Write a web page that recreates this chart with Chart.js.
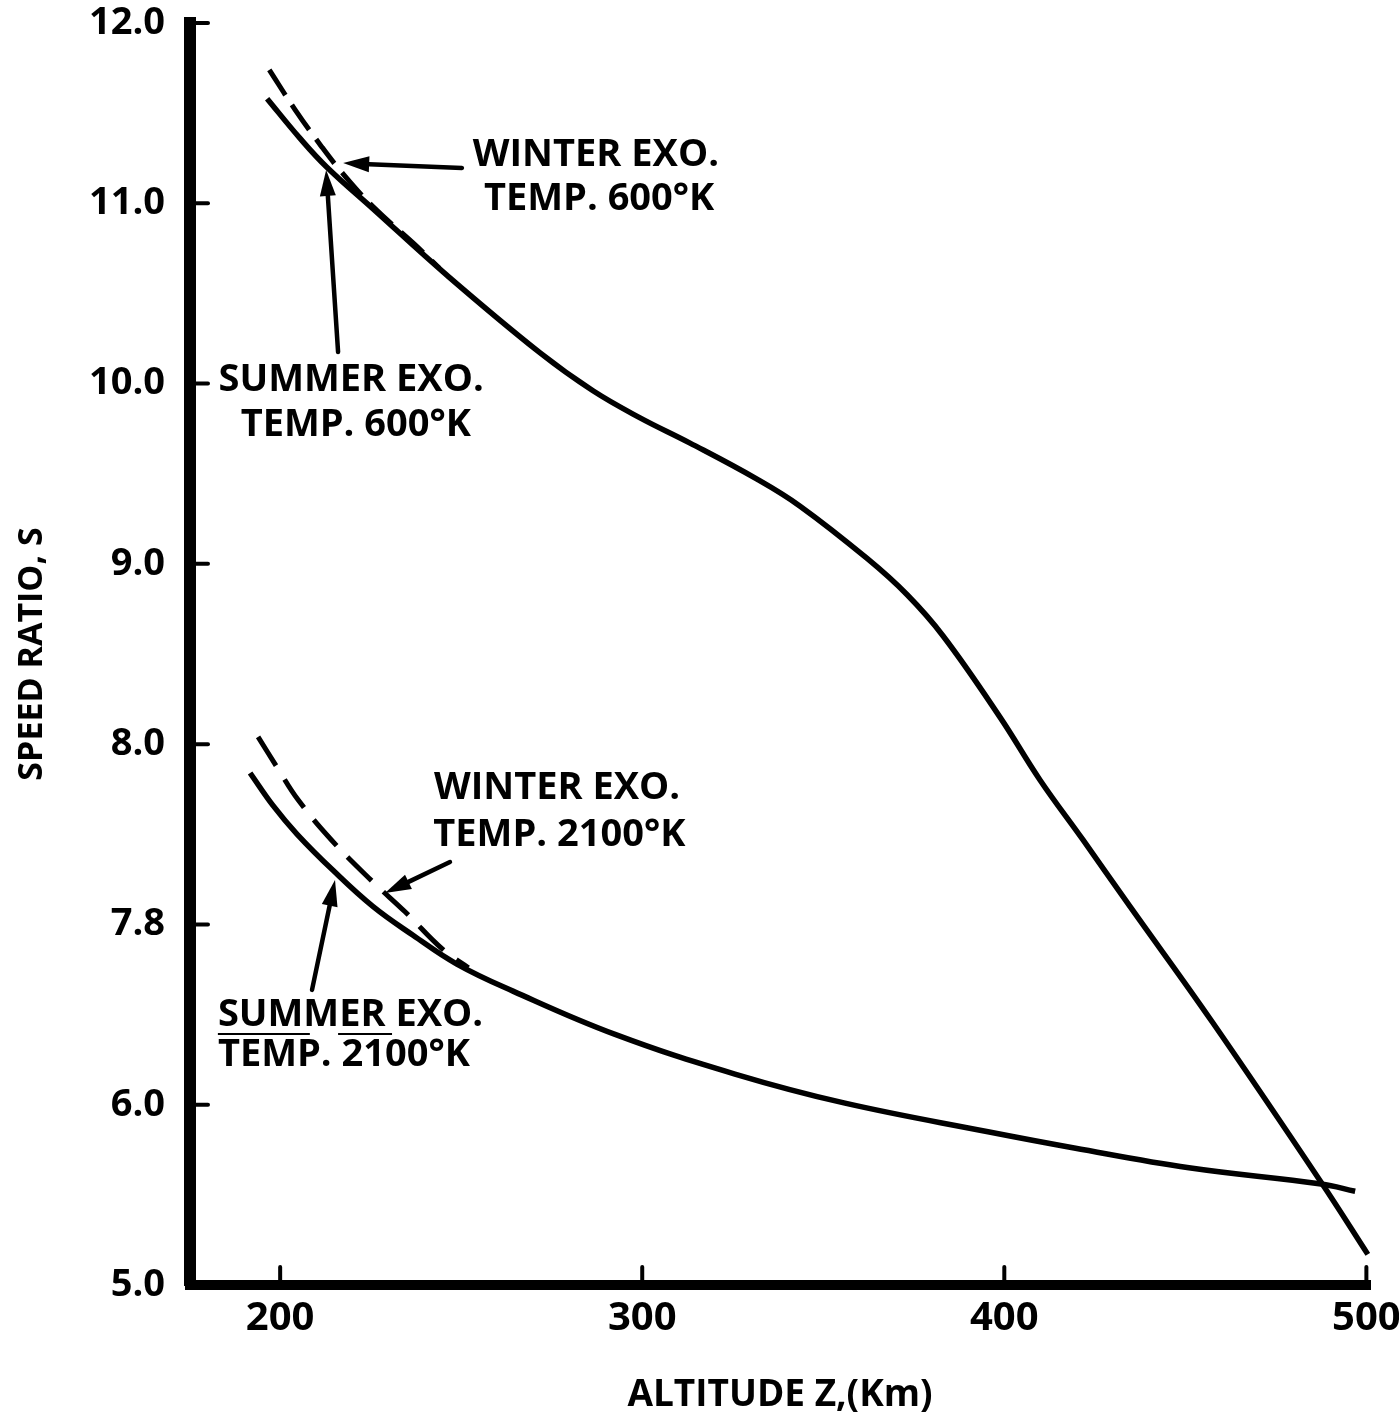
<!DOCTYPE html>
<html>
<head>
<meta charset="utf-8">
<script src="https://cdn.jsdelivr.net/npm/chart.js@4"></script>
<style>
  html, body { margin: 0; padding: 0; background: #fff; }
</style>
</head>
<body>
<canvas id="grafico" width="1399" height="1420"></canvas>
<script>
// ====== Datos (altitud en km, relación de velocidad S) ======
const altVerano600 = [196.4, 205.5, 212.9, 225.6, 246.1, 271.8, 286.4, 299.4, 313.2, 331.7, 343.6, 362.1, 373.1, 383.1, 398.8, 409.9, 421.7, 434.7, 457.4, 487.5, 500.4];
const sVerano600 = [11.58, 11.36, 11.20, 10.97, 10.60, 10.17, 9.96, 9.81, 9.67, 9.47, 9.32, 9.03, 8.83, 8.60, 8.15, 7.80, 7.47, 7.10, 6.46, 5.57, 5.17];

const altInvierno600 = [197.0, 204.1, 211.6, 217.1, 225.7, 236.7, 244.0];
const sInvierno600 = [11.74, 11.52, 11.31, 11.17, 10.98, 10.78, 10.64];

const altVerano2100 = [191.7, 198.0, 204.7, 214.6, 225.6, 236.7, 248.8, 264.3, 292.5, 325.6, 355.7, 395.5, 419.3, 451.0, 487.5, 496.9];
const sVerano2100 = [7.84, 7.66, 7.50, 7.30, 7.10, 6.94, 6.78, 6.63, 6.39, 6.17, 6.01, 5.85, 5.76, 5.65, 5.56, 5.52];

const altInvierno2100 = [193.9, 199.2, 205.0, 214.1, 225.4, 234.5, 245.0, 252.0];
const sInvierno2100 = [8.04, 7.87, 7.69, 7.47, 7.24, 7.07, 6.86, 6.76];

// ====== Ejes ======
const xTicks = [200, 300, 400, 500];
const yTicks = [5, 6, 7, 8, 9, 10, 11, 12];
const yTickLabels = ['5.0', '6.0', '7.8', '8.0', '9.0', '10.0', '11.0', '12.0'];

// ====== Etiquetas y flechas (en unidades de los ejes) ======
const etiquetas = [
  { text: 'WINTER EXO.', x: 287.2, y: 11.268, align: 'center' },
  { text: 'TEMP. 600°K', x: 288.1, y: 11.024, align: 'center' },
  { text: 'SUMMER EXO.', x: 219.6, y: 10.020, align: 'center' },
  { text: 'TEMP. 600°K', x: 220.9, y: 9.770, align: 'center' },
  { text: 'WINTER EXO.', x: 242.5, y: 7.757, align: 'left' },
  { text: 'TEMP. 2100°K', x: 242.3, y: 7.496, align: 'left' },
  { text: 'SUMMER EXO.', x: 182.8, y: 6.498, align: 'left' },
  { text: 'TEMP. 2100°K', x: 182.8, y: 6.276, align: 'left' }
];
// [x cola, y cola, x punta, y punta]
const flechas = [
  [250.2, 11.196, 217.4, 11.223],
  [216.0, 10.175, 212.7, 11.185],
  [246.9, 7.346, 228.96, 7.174],
  [208.8, 6.637, 215.15, 7.246]
];
// rayas bajo "SUMMER EXO." inferior
const rayas = [
  [182.8, 208.2, 6.392],
  [216.0, 230.9, 6.392]
];

function puntos(xs, ys) {
  return xs.map((v, i) => ({ x: v, y: ys[i] }));
}

function flecha(ctx, x1, y1, x2, y2) {
  const ang = Math.atan2(y2 - y1, x2 - x1);
  const largo = 26, ancho = 8;
  const bx = x2 - largo * Math.cos(ang), by = y2 - largo * Math.sin(ang);
  ctx.lineWidth = 4.5;
  ctx.beginPath();
  ctx.moveTo(x1, y1);
  ctx.lineTo(bx, by);
  ctx.stroke();
  ctx.beginPath();
  ctx.moveTo(x2, y2);
  ctx.lineTo(bx + ancho * Math.sin(ang), by - ancho * Math.cos(ang));
  ctx.lineTo(bx - ancho * Math.sin(ang), by + ancho * Math.cos(ang));
  ctx.closePath();
  ctx.fill();
}

// ====== Plugin: marcas hacia dentro, flechas y textos ======
const anotaciones = {
  id: 'anotaciones',
  afterDatasetsDraw(chart) {
    const { ctx, scales: { x, y } } = chart;
    ctx.save();
    ctx.strokeStyle = '#000';
    ctx.fillStyle = '#000';
    ctx.lineCap = 'round';
    ctx.lineWidth = 4;
    yTicks.forEach(v => {
      const py = y.getPixelForValue(v);
      ctx.beginPath();
      ctx.moveTo(x.left, py);
      ctx.lineTo(x.left + 18, py);
      ctx.stroke();
    });
    xTicks.forEach(v => {
      const px = x.getPixelForValue(v);
      ctx.beginPath();
      ctx.moveTo(px, y.bottom);
      ctx.lineTo(px, y.bottom - 18);
      ctx.stroke();
    });

    flechas.forEach(f => flecha(ctx,
      x.getPixelForValue(f[0]), y.getPixelForValue(f[1]),
      x.getPixelForValue(f[2]), y.getPixelForValue(f[3])));

    ctx.lineWidth = 2;
    ctx.lineCap = 'butt';
    rayas.forEach(r => {
      const py = y.getPixelForValue(r[2]);
      ctx.beginPath();
      ctx.moveTo(x.getPixelForValue(r[0]), py);
      ctx.lineTo(x.getPixelForValue(r[1]), py);
      ctx.stroke();
    });

    ctx.font = 'bold 38px "Open Sans"';
    ctx.textBaseline = 'middle';
    etiquetas.forEach(t => {
      ctx.textAlign = t.align;
      ctx.fillText(t.text, x.getPixelForValue(t.x), y.getPixelForValue(t.y));
    });
    ctx.restore();
  }
};

// ====== Gráfico ======
const ctx = document.getElementById('grafico').getContext('2d');
const grafico = new Chart(ctx, {
  type: 'line',
  data: {
    datasets: [
      { label: 'Summer 600', data: puntos(altVerano600, sVerano600), borderWidth: 5.5 },
      { label: 'Winter 600', data: puntos(altInvierno600, sInvierno600), borderWidth: 5, borderDash: [30, 12] },
      { label: 'Summer 2100', data: puntos(altVerano2100, sVerano2100), borderWidth: 5.5 },
      { label: 'Winter 2100', data: puntos(altInvierno2100, sInvierno2100), borderWidth: 5, borderDash: [34, 16] }
    ]
  },
  options: {
    responsive: false,
    animation: false,
    devicePixelRatio: 1,
    layout: { padding: { top: 23, right: 29, left: 0, bottom: 0 } },
    elements: {
      line: { borderColor: '#000', tension: 0.4, fill: false, borderCapStyle: 'butt' },
      point: { radius: 0 }
    },
    plugins: { legend: { display: false }, tooltip: { enabled: false } },
    scales: {
      x: {
        type: 'linear',
        min: 175.1,
        max: 501,
        grid: { display: false, drawTicks: false },
        border: { display: true, color: '#000', width: 10 },
        afterBuildTicks: s => { s.ticks = xTicks.map(v => ({ value: v })); },
        afterFit: s => { s.height = 135; s.paddingLeft = 0; s.paddingRight = 0; },
        ticks: {
          color: '#000',
          padding: 10,
          maxRotation: 0,
          font: { family: 'Open Sans', weight: 'bold', size: 40 }
        },
        title: {
          display: true,
          text: 'ALTITUDE Z,(Km)',
          color: '#000',
          padding: { top: 0, bottom: 2 },
          font: { family: 'Open Sans', weight: 'bold', size: 37 }
        }
      },
      y: {
        type: 'linear',
        min: 5,
        max: 12,
        grid: { display: false, drawTicks: false },
        border: { display: true, color: '#000', width: 12 },
        afterBuildTicks: s => { s.ticks = yTicks.map(v => ({ value: v })); },
        afterFit: s => { s.width = 190; s.paddingTop = 0; s.paddingBottom = 0; },
        ticks: {
          color: '#000',
          padding: 25,
          font: { family: 'Open Sans', weight: 'bold', size: 38 },
          callback: v => yTickLabels[yTicks.indexOf(v)]
        },
        title: {
          display: true,
          text: 'SPEED RATIO, S',
          color: '#000',
          padding: { top: 12, bottom: 0 },
          font: { family: 'Open Sans', weight: 'bold', size: 34 }
        }
      }
    }
  },
  plugins: [anotaciones]
});
</script>
</body>
</html>
